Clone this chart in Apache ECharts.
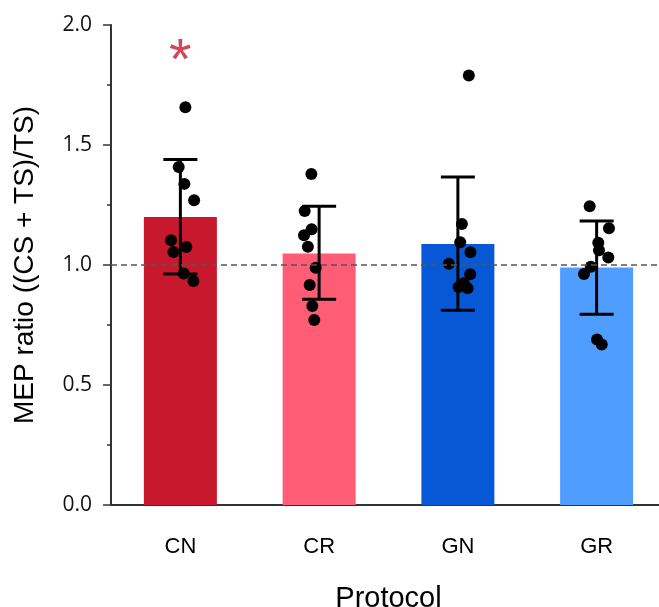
<!DOCTYPE html>
<html>
<head>
<meta charset="utf-8">
<script src="https://cdn.jsdelivr.net/npm/echarts@6/dist/echarts.min.js"></script>
<style>
  html, body { margin: 0; padding: 0; background: #fff; }
  #chart { width: 659px; height: 607px; }
</style>
</head>
<body>
<div id="chart"></div>
<script>
// protocol groups
const categories = ['CN', 'CR', 'GN', 'GR'];
const barColors = ['#C8182E', '#FF5C76', '#0658D6', '#4F9DFF'];

// bar heights and error bar ends
const means = [1.20, 1.048, 1.088, 0.99];
const errLow = [0.963, 0.857, 0.811, 0.795];
const errHigh = [1.44, 1.245, 1.367, 1.183];

// individual subjects: [horizontal jitter in category units, ratio]
const pointsCN = [[0.036, 1.657], [-0.012, 1.408], [0.029, 1.338], [0.099, 1.27], [-0.067, 1.103],
  [0.043, 1.075], [-0.050, 1.054], [0.024, 0.965], [0.094, 0.933]];
const pointsCR = [[-0.056, 1.379], [-0.104, 1.225], [-0.054, 1.149], [-0.109, 1.124], [-0.081, 1.076],
  [-0.025, 0.989], [-0.068, 0.917], [-0.049, 0.829], [-0.035, 0.771]];
const pointsGN = [[0.079, 1.790], [0.029, 1.171], [0.017, 1.095], [0.091, 1.053], [-0.065, 1.005],
  [0.089, 0.961], [0.043, 0.924], [0.005, 0.908], [0.070, 0.903]];
const pointsGR = [[-0.050, 1.245], [0.089, 1.153], [0.012, 1.093], [0.017, 1.061], [0.084, 1.031],
  [-0.042, 0.993], [-0.091, 0.9625], [0.003, 0.690], [0.037, 0.669]];

// significance marks
const sigMarks = ['*', '', '', ''];
const sigY = [1.84, null, null, null];

const yTicks = [0, 0.5, 1.0, 1.5, 2.0];

const chart = echarts.init(document.getElementById('chart'));

const allPoints = [pointsCN, pointsCR, pointsGN, pointsGR];
const scatterData = [];
allPoints.forEach((pts, i) => {
  pts.forEach(p => scatterData.push([i + p[0], p[1]]));
});

const sigData = [];
sigMarks.forEach((m, i) => {
  if (m) sigData.push({ value: [i, sigY[i]], label: { formatter: m } });
});

const option = {
  animation: false,
  grid: { left: 111, top: 25, width: 555, height: 480, containLabel: false, outerBoundsMode: 'none' },
  xAxis: [
    {
      type: 'category',
      data: categories,
      axisLine: { lineStyle: { color: '#333', width: 2 } },
      axisTick: { alignWithLabel: true, length: 8, lineStyle: { color: '#333', width: 1.5 } },
      axisLabel: { margin: 31, color: '#000', fontSize: 22, fontFamily: 'Liberation Sans' },
      name: 'Protocol',
      nameLocation: 'middle',
      nameGap: 79,
      nameTextStyle: { color: '#000', fontSize: 29, fontFamily: 'Liberation Sans' }
    },
    {
      type: 'value',
      min: -0.5,
      max: 3.5,
      show: false
    }
  ],
  yAxis: {
    type: 'value',
    min: yTicks[0],
    max: yTicks[yTicks.length - 1],
    interval: 0.5,
    splitLine: { show: false },
    axisLine: { show: true, onZero: false, lineStyle: { color: '#333', width: 2 } },
    axisTick: { show: true, length: 8, lineStyle: { color: '#333', width: 1.5 } },
    minorTick: { show: true, splitNumber: 2, length: 4, lineStyle: { color: '#333', width: 1.5 } },
    axisLabel: {
      margin: 19, color: '#111', fontSize: 21, fontFamily: 'Open Sans',
      formatter: v => v.toFixed(1)
    },
    name: 'MEP ratio ((CS + TS)/TS)',
    nameLocation: 'middle',
    nameGap: 72,
    nameTextStyle: { color: '#000', fontSize: 28, fontFamily: 'Liberation Sans' }
  },
  series: [
    {
      type: 'line',
      data: [],
      z: 1,
      markLine: {
        silent: true,
        symbol: 'none',
        label: { show: false },
        lineStyle: { color: '#555', width: 1.5, type: [6, 4] },
        data: [{ yAxis: 1 }]
      }
    },
    {
      type: 'bar',
      z: 2,
      barWidth: 73,
      data: means.map((v, i) => ({ value: v, itemStyle: { color: barColors[i] } }))
    },
    {
      type: 'custom',
      z: 3,
      data: categories.map((c, i) => [i, errLow[i], errHigh[i]]),
      renderItem: (params, api) => {
        const lo = api.coord([api.value(0), api.value(1)]);
        const hi = api.coord([api.value(0), api.value(2)]);
        const hw = 17;
        const style = { stroke: '#000', lineWidth: 3 };
        return {
          type: 'group',
          children: [
            { type: 'line', shape: { x1: hi[0], y1: hi[1], x2: lo[0], y2: lo[1] }, style },
            { type: 'line', shape: { x1: hi[0] - hw, y1: hi[1], x2: hi[0] + hw, y2: hi[1] }, style },
            { type: 'line', shape: { x1: lo[0] - hw, y1: lo[1], x2: lo[0] + hw, y2: lo[1] }, style }
          ]
        };
      }
    },
    {
      type: 'scatter',
      xAxisIndex: 1,
      z: 4,
      symbolSize: 12,
      itemStyle: { color: '#000', opacity: 1 },
      data: scatterData
    },
    {
      type: 'scatter',
      z: 5,
      symbolSize: 0,
      data: sigData,
      label: {
        show: true,
        position: 'inside',
        color: '#C8182E',
        fontSize: 58,
        fontFamily: 'Liberation Sans'
      }
    }
  ]
};

chart.setOption(option);
</script>
</body>
</html>
